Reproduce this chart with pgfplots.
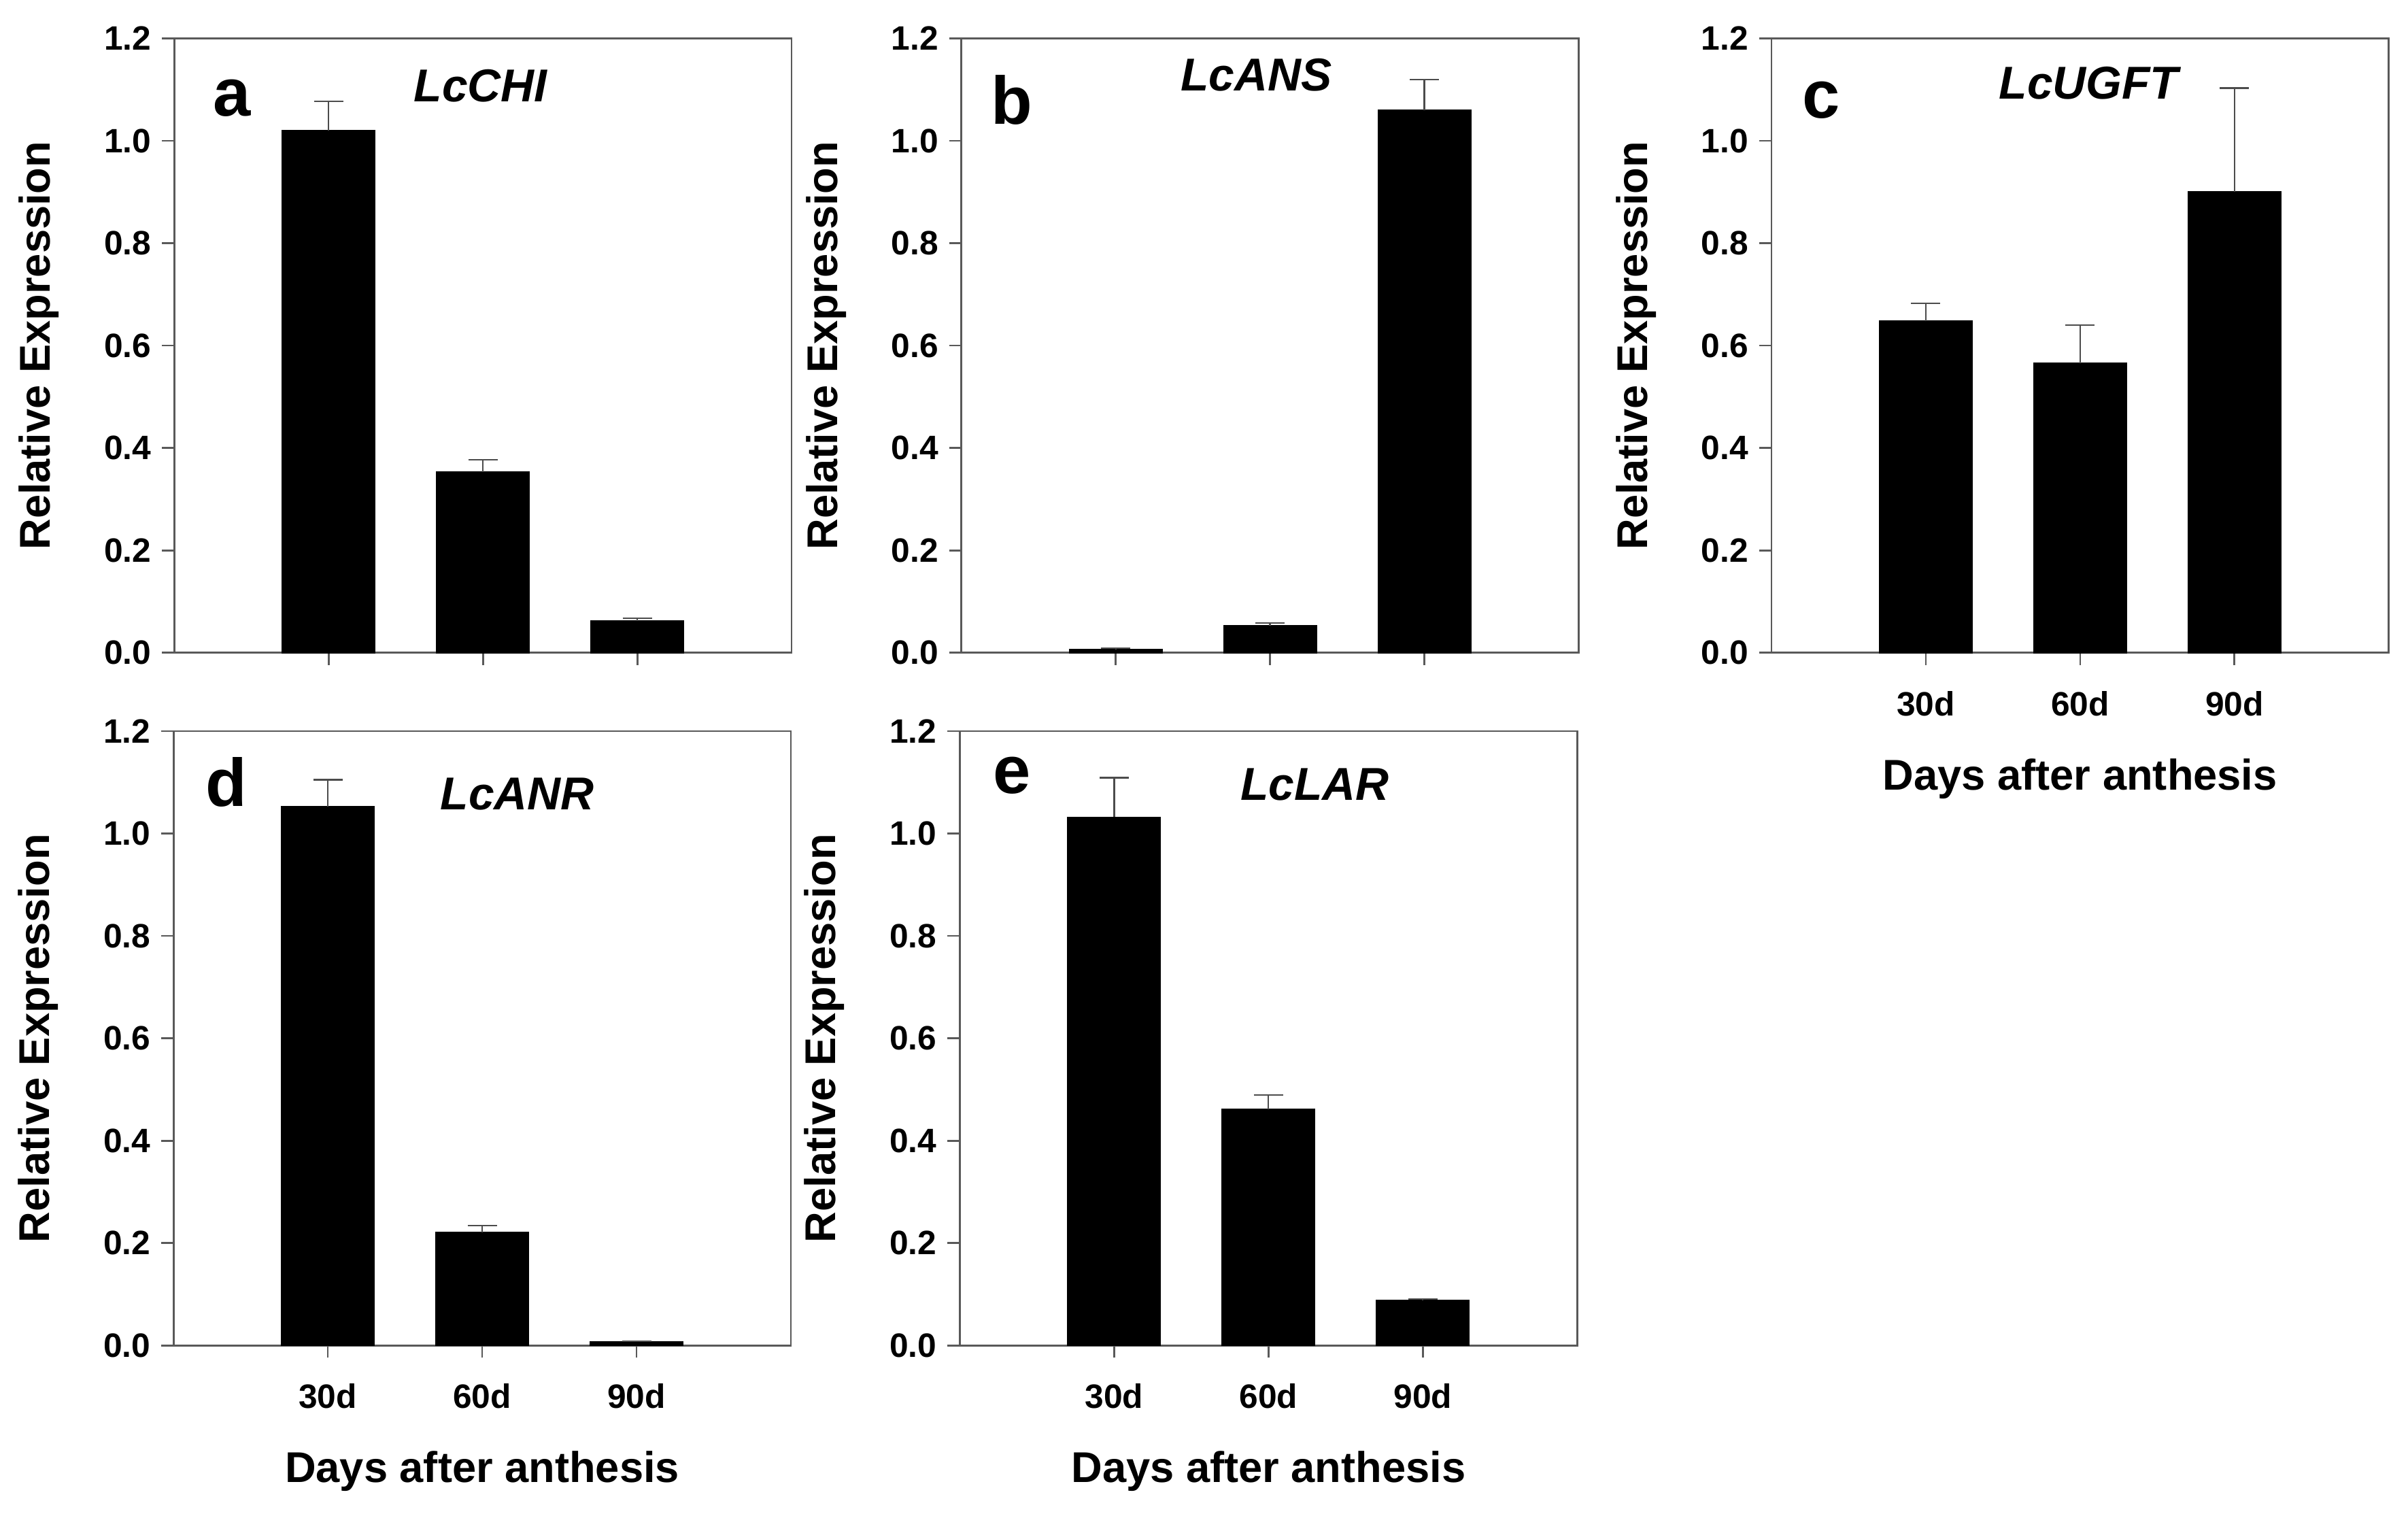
\documentclass[border=0pt]{standalone}
\usepackage{fontspec}
\setmainfont{Liberation Sans}
\usepackage{pgfplots}
\pgfplotsset{compat=1.18}

\definecolor{framegray}{gray}{0.35}
\definecolor{errgray}{gray}{0.3}

\tikzset{
  letter/.style={font=\bfseries\fontsize{22}{24}\selectfont, inner sep=0pt},
  gene/.style={font=\bfseries\itshape\fontsize{15}{17}\selectfont, inner sep=0pt},
}

\pgfplotsset{
  panel/.style={
    scale only axis, width=201pt, height=200pt,
    xmin=0, xmax=4, ymin=0, ymax=1.2,
    xtick={1,2,3}, ytick={0,0.2,0.4,0.6,0.8,1.0,1.2},
    tick pos=left, tick align=outside, major tick length=4pt,
    axis line style={framegray, line width=0.6pt},
    every tick/.style={framegray, line width=0.6pt},
    yticklabel style={/pgf/number format/fixed, /pgf/number format/fixed zerofill,
      /pgf/number format/precision=1},
    xticklabel style={yshift=-5pt},
    /pgf/number format/assume math mode=true,
    ticklabel style={font=\bfseries\fontsize{11}{13}\selectfont},
    label style={font=\bfseries\fontsize{14}{16}\selectfont},
    ylabel={Relative Expression},
    ylabel style={at={(axis description cs:-0.219,0.5)}, anchor=center},
    xlabel style={at={(axis description cs:0.5,-0.205)}, anchor=center},
    ybar, bar width=0.6, clip=false,
  },
  barplot/.style={fill=black, draw=black, line width=0.4pt,
    error bars/.cd, y dir=plus, y explicit,
    error bar style={errgray, line width=0.5pt},
    error mark options={errgray, line width=0.5pt, mark size=4.75pt, rotate=90}},
}

\begin{document}
\begin{tikzpicture}
\path[use as bounding box] (0,0) rectangle (784pt,-493.5pt);

% panel a
\begin{axis}[panel, at={(56.75pt,-12.5pt)}, anchor=north west, xticklabels={}]
\addplot+[barplot] table[x=x, y=y, y error=e] {
x y e
1 1.020 0.057
2 0.353 0.024
3 0.062 0.005
};
\node[letter] at (axis description cs:0.093,0.9025) {a};
\node[gene] at (axis description cs:0.496,0.9225) {LcCHI};
\end{axis}

% panel b
\begin{axis}[panel, at={(313pt,-12.5pt)}, anchor=north west, xticklabels={}]
\addplot+[barplot] table[x=x, y=y, y error=e] {
x y e
1 0.006 0.003
2 0.053 0.005
3 1.060 0.060
};
\node[letter] at (axis description cs:0.082,0.90) {b};
\node[gene] at (axis description cs:0.478,0.94) {LcANS};
\end{axis}

% panel c
\begin{axis}[panel, at={(576.75pt,-12.5pt)}, anchor=north west,
  xticklabels={30d,60d,90d}, xlabel={Days after anthesis}]
\addplot+[barplot] table[x=x, y=y, y error=e] {
x y e
1 0.648 0.035
2 0.566 0.074
3 0.900 0.203
};
\node[letter] at (axis description cs:0.081,0.90) {c};
\node[gene] at (axis description cs:0.514,0.9275) {LcUGFT};
\end{axis}

% panel d
\begin{axis}[panel, at={(56.5pt,-238pt)}, anchor=north west,
  xticklabels={30d,60d,90d}, xlabel={Days after anthesis}]
\addplot+[barplot] table[x=x, y=y, y error=e] {
x y e
1 1.053 0.052
2 0.221 0.013
3 0.007 0.001
};
\node[letter] at (axis description cs:0.085,0.9175) {d};
\node[gene] at (axis description cs:0.557,0.8975) {LcANR};
\end{axis}

% panel e
\begin{axis}[panel, at={(312.5pt,-238pt)}, anchor=north west,
  xticklabels={30d,60d,90d}, xlabel={Days after anthesis}]
\addplot+[barplot] table[x=x, y=y, y error=e] {
x y e
1 1.032 0.077
2 0.461 0.028
3 0.088 0.003
};
\node[letter] at (axis description cs:0.085,0.9275) {e};
\node[gene] at (axis description cs:0.575,0.9125) {LcLAR};
\end{axis}
\end{tikzpicture}
\end{document}
